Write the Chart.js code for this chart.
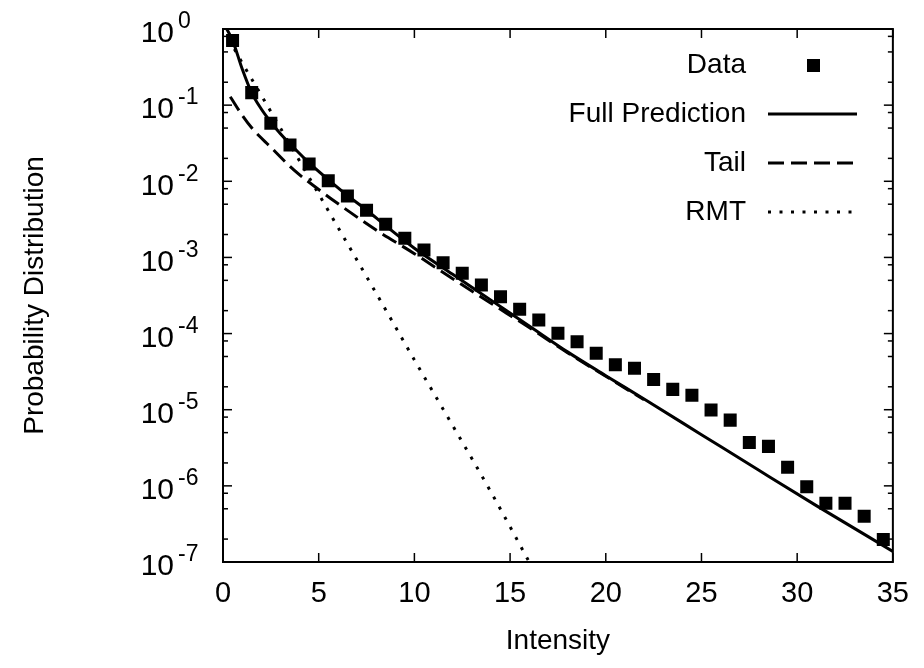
<!DOCTYPE html>
<html>
<head>
<meta charset="utf-8">
<script src="https://cdn.jsdelivr.net/npm/chart.js@4.4.1/dist/chart.umd.min.js"></script>
<style>
  html, body { margin: 0; padding: 0; background: #fff; }
  #wrap { width: 924px; height: 668px; }
</style>
</head>
<body>
<div id="wrap"><canvas id="intensityChart" width="924" height="668"></canvas></div>
<script>
// histogram of measured intensities (bin centres)
const intensityBins = [0.5, 1.5, 2.5, 3.5, 4.5, 5.5, 6.5, 7.5, 8.5, 9.5, 10.5, 11.5, 12.5, 13.5, 14.5, 15.5, 16.5, 17.5,
  18.5, 19.5, 20.5, 21.5, 22.5, 23.5, 24.5, 25.5, 26.5, 27.5, 28.5, 29.5, 30.5, 31.5, 32.5, 33.5, 34.5];
const dataValues = [0.706, 0.146, 0.0578, 0.0300, 0.0169, 0.0102, 0.0064, 0.00416, 0.00272, 0.00178, 0.00125, 0.00085,
  0.00062, 0.000434, 0.000305, 0.000208, 0.000151, 0.000101, 7.8e-5, 5.5e-5, 3.9e-5, 3.5e-5, 2.5e-5, 1.85e-5, 1.55e-5,
  9.9e-6, 7.3e-6, 3.7e-6, 3.3e-6, 1.75e-6, 9.7e-7, 5.9e-7, 5.9e-7, 4.0e-7, 1.98e-7];

// full prediction curve
const fullX = [0.15, 0.5, 1, 1.5, 2, 2.5, 3, 3.5, 4.5, 5.5, 6.5, 7.5, 8.5, 10, 12, 14, 16, 18, 20, 22, 25, 28, 31, 35];
const fullValues = [1.05, 0.71, 0.30, 0.145, 0.089, 0.060, 0.042, 0.031, 0.0174, 0.0105, 0.0065, 0.0042, 0.0026,
  1.32e-3, 6.0e-4, 2.75e-4, 1.26e-4, 5.75e-5, 2.8e-5, 1.38e-5, 4.7e-6, 1.6e-6, 5.5e-7, 1.38e-7];

// tail contribution
const tailX = [0.38, 1, 1.6, 2.5, 3.7, 5, 6, 8, 10, 12, 14, 16, 18, 20, 22];
const tailValues = [0.129, 0.074, 0.047, 0.028, 0.0141, 0.0078, 0.0051, 0.00229, 1.12e-3, 5.25e-4, 2.5e-4, 1.2e-4,
  5.6e-5, 2.75e-5, 1.35e-5];

// random matrix theory curve
const rmtX = [0.3, 1, 2, 3, 4, 5, 6, 8, 10, 12, 14, 16];
const rmtValues = [0.74, 0.36, 0.135, 0.050, 0.0185, 0.0068, 0.0025, 3.4e-4, 4.5e-5, 6.2e-6, 8.3e-7, 1.0e-7];

const xTicks = [0, 5, 10, 15, 20, 25, 30, 35];
const yDecades = [0, -1, -2, -3, -4, -5, -6, -7];
const seriesNames = ["Data", "Full Prediction", "Tail", "RMT"];

const FONT = "'Liberation Sans', Arial, sans-serif";

function points(xs, ys) {
    return xs.map((v, i) => ({ x: v, y: ys[i] }));
}

function line(ctx, x1, y1, x2, y2) {
    ctx.beginPath();
    ctx.moveTo(x1, y1);
    ctx.lineTo(x2, y2);
    ctx.stroke();
}

/* ==========================
   frame, ticks, labels, key
========================== */
const gnuplotLook = {
    id: "gnuplotLook",
    afterDraw(chart) {
        const { ctx, chartArea: a, scales: { x, y } } = chart;
        ctx.save();
        ctx.strokeStyle = "#000";
        ctx.fillStyle = "#000";
        ctx.lineWidth = 1.5;

        xTicks.forEach(v => {
            const px = x.getPixelForValue(v);
            line(ctx, px, a.bottom, px, a.bottom - 9);
            line(ctx, px, a.top, px, a.top + 9);
        });

        yDecades.forEach(k => {
            const py = y.getPixelForValue(Math.pow(10, k));
            line(ctx, a.left, py, a.left + 9, py);
            line(ctx, a.right, py, a.right - 9, py);
            if (k < 0) {
                [2, 5, 8].forEach(m => {
                    const my = y.getPixelForValue(m * Math.pow(10, k));
                    line(ctx, a.left, my, a.left + 5, my);
                    line(ctx, a.right, my, a.right - 5, my);
                });
            }
        });

        ctx.lineWidth = 2;
        ctx.strokeRect(a.left, a.top, a.right - a.left, a.bottom - a.top);

        // y tick labels with superscript exponent
        yDecades.forEach(k => {
            const py = y.getPixelForValue(Math.pow(10, k));
            ctx.font = "30px " + FONT;
            ctx.textAlign = "right";
            ctx.textBaseline = "middle";
            ctx.fillText("10", 174, py + 5);
            ctx.font = "23px " + FONT;
            ctx.textAlign = "left";
            ctx.fillText(String(k), 178, py - 7);
        });

        // y title
        ctx.save();
        ctx.translate(35, (a.top + a.bottom) / 2);
        ctx.rotate(-Math.PI / 2);
        ctx.font = "28px " + FONT;
        ctx.textAlign = "center";
        ctx.textBaseline = "middle";
        ctx.fillText("Probability Distribution", 0, 0);
        ctx.restore();

        // key, top right
        chart.data.datasets.forEach((ds, i) => {
            const ky = 65 + i * 49;
            ctx.font = "28px " + FONT;
            ctx.textAlign = "right";
            ctx.textBaseline = "middle";
            ctx.fillText(ds.label, 746, ky);
            if (!ds.showLine) {
                ctx.fillRect(807, ky - 6, 13, 13);
            } else {
                ctx.lineWidth = ds.borderWidth;
                ctx.setLineDash(ds.borderDash || []);
                line(ctx, 768, ky, 857, ky);
                ctx.setLineDash([]);
            }
        });
        ctx.restore();
    }
};

const canvas = document.getElementById("intensityChart");

new Chart(canvas, {
    type: "scatter",
    data: {
        datasets: [
            {
                label: seriesNames[0],
                data: points(intensityBins, dataValues),
                showLine: false,
                pointStyle: "rect",
                pointRadius: 9.2,
                pointHoverRadius: 9.2,
                backgroundColor: "#000",
                borderColor: "#000",
                borderWidth: 0
            },
            {
                label: seriesNames[1],
                data: points(fullX, fullValues),
                showLine: true,
                pointRadius: 0,
                borderColor: "#000",
                borderWidth: 3,
                cubicInterpolationMode: "monotone"
            },
            {
                label: seriesNames[2],
                data: points(tailX, tailValues),
                showLine: true,
                pointRadius: 0,
                borderColor: "#000",
                borderWidth: 3,
                borderDash: [16, 7],
                cubicInterpolationMode: "monotone"
            },
            {
                label: seriesNames[3],
                data: points(rmtX, rmtValues),
                showLine: true,
                pointRadius: 0,
                borderColor: "#000",
                borderWidth: 3,
                borderDash: [3, 8.5],
                cubicInterpolationMode: "monotone"
            }
        ]
    },
    options: {
        responsive: false,
        animation: false,
        devicePixelRatio: 1,
        layout: { padding: { top: 29, right: 28, left: 0, bottom: 0 } },
        plugins: {
            legend: { display: false },
            tooltip: { enabled: false }
        },
        scales: {
            x: {
                type: "linear",
                min: 0,
                max: 35,
                afterFit: s => { s.height = 106; },
                afterBuildTicks: s => { s.ticks = xTicks.map(v => ({ value: v })); },
                grid: { display: false, drawTicks: false },
                border: { display: false },
                ticks: { color: "#000", font: { family: FONT, size: 29 }, padding: 15, maxRotation: 0 },
                title: {
                    display: true,
                    text: "Intensity",
                    color: "#000",
                    font: { family: FONT, size: 28 },
                    padding: { top: 0, bottom: 10 }
                }
            },
            y: {
                type: "logarithmic",
                min: 1e-7,
                max: 1,
                afterFit: s => { s.width = 223; },
                grid: { display: false, drawTicks: false },
                border: { display: false },
                ticks: { display: false }
            }
        }
    },
    plugins: [gnuplotLook]
});
</script>
</body>
</html>
